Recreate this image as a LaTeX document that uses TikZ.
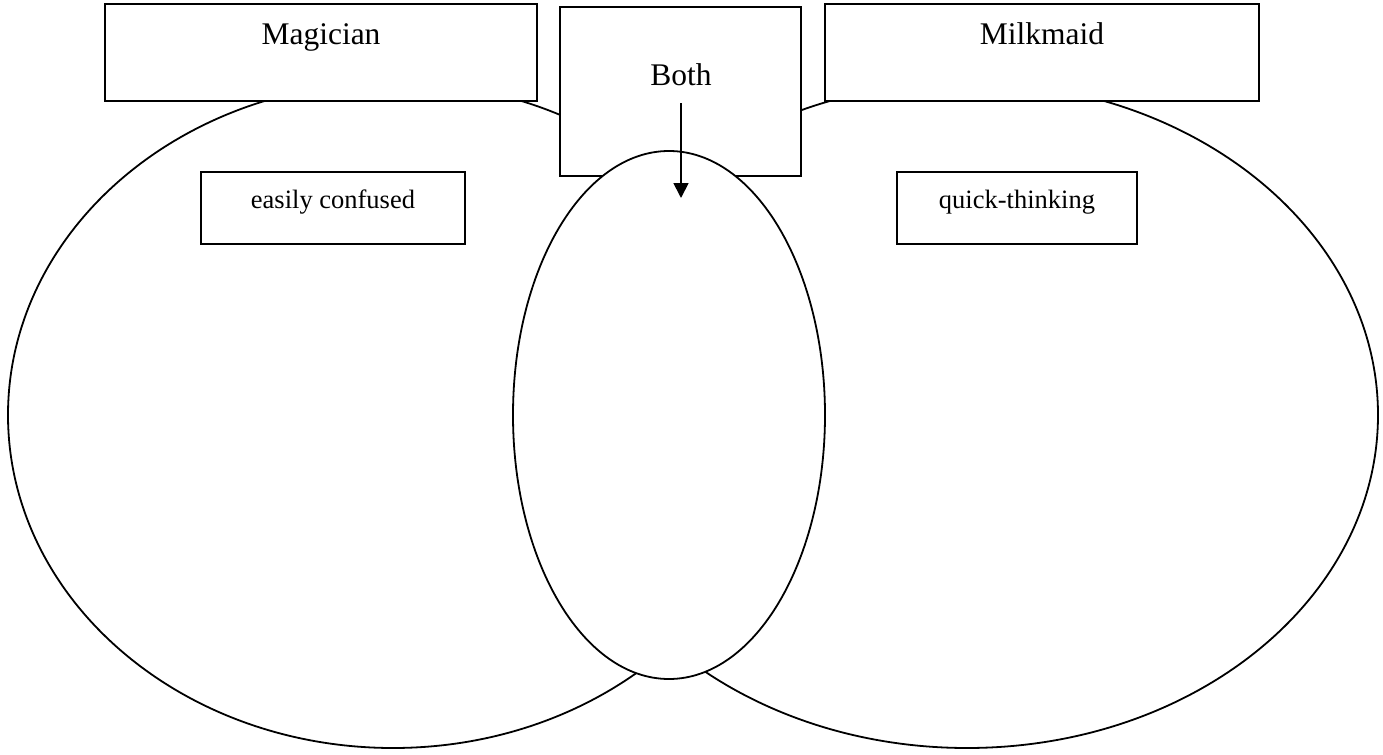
\documentclass[tikz,border=0pt]{standalone}
\usepackage{fontspec}
\setmainfont{Liberation Serif}
\usepackage{tikz}
\usetikzlibrary{arrows.meta,positioning}

\tikzset{
  setline/.style={line width=0.9pt},
  boxline/.style={draw, line width=0.9pt, fill=white},
  titletext/.style={anchor=base, inner sep=0pt, font=\fontsize{15.75}{18}\selectfont},
  traittext/.style={anchor=base, inner sep=0pt, font=\fontsize{13.25}{16}\selectfont},
}

\begin{document}
\begin{tikzpicture}[x=0.5pt, y=-0.5pt]
    \useasboundingbox (0,0) rectangle (1383,755);

    % Outer sets
    \draw[setline] (393,415) ellipse [x radius=192.5pt, y radius=166.5pt];
    \draw[setline] (967,415) ellipse [x radius=205.5pt, y radius=166.5pt];

    % Title boxes
    \draw[boxline] (105,4) rectangle (537,101);
    \node[titletext] (magician) at (321,45) {Magician};
    \draw[boxline] (825,4) rectangle (1259,101);
    \node[titletext] (milkmaid) at (1042,45) {Milkmaid};
    \draw[boxline] (560,7) rectangle (801,176);
    \node[titletext] (both) at (681,85) {Both};

    % Traits
    \draw[boxline] (201,172) rectangle (465,244);
    \node[traittext] (confused) at (333,208) {easily confused};
    \draw[boxline] (897,172) rectangle (1137,244);
    \node[traittext] (quick) at (1017,208) {quick-thinking};

    % Middle set
    \draw[setline, fill=white] (669,415) ellipse [x radius=78pt, y radius=132pt];

    % Arrow
    \coordinate (arrowstart) at (681,103);
    \coordinate (arrowend) at (681,198);
    \draw[setline, -{Triangle[width=7.5pt, length=7.5pt]}] (arrowstart) -- (arrowend);
\end{tikzpicture}
\end{document}
